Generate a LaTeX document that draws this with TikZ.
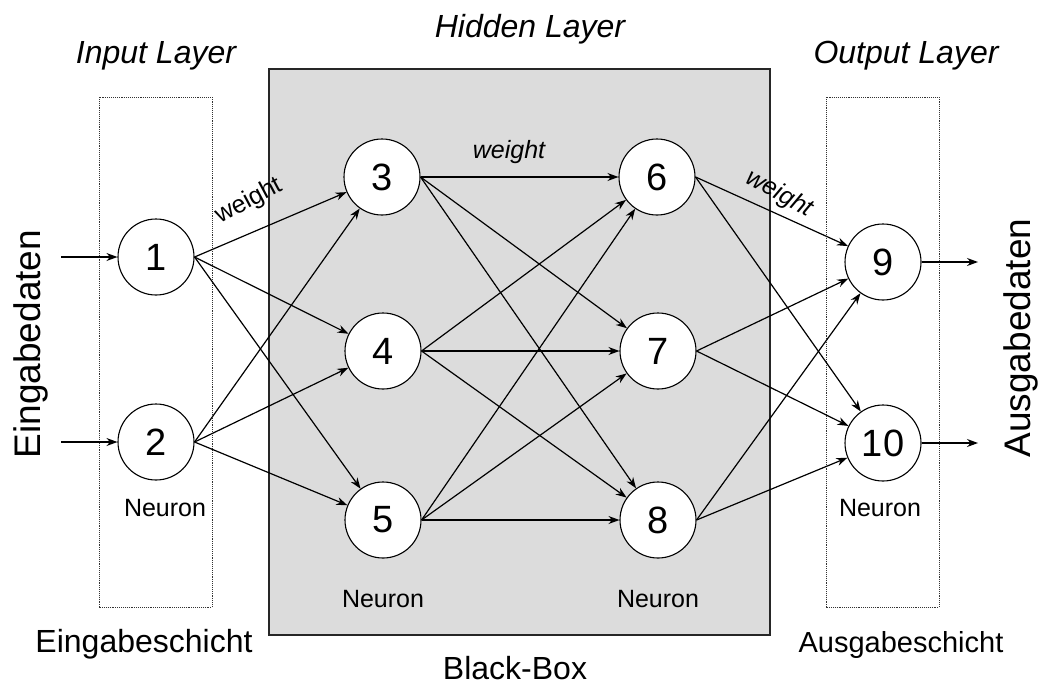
\documentclass[tikz,border=0pt]{standalone}
\usepackage{fontspec}
\setmainfont{Liberation Sans}
\usetikzlibrary{arrows.meta}
\definecolor{boxgray}{HTML}{DCDCDC}
\begin{document}
\begin{tikzpicture}[x=1pt,y=-1pt,
  neuron/.style={circle,draw,line width=1.1pt,fill=white,minimum size=76pt,inner sep=0pt,font=\fontsize{38}{40}\selectfont},
  conn/.style={line width=1.2pt,-{Stealth[length=11pt,width=8pt]}},
  layerbox/.style={draw=black!80,densely dotted,line width=0.9pt},
  blackbox/.style={draw=black!85,fill=boxgray,line width=1.4pt},
  title/.style={font=\fontsize{32}{36}\selectfont\itshape,anchor=base,inner sep=0pt},
  bottomlabel/.style={font=\fontsize{32}{36}\selectfont,anchor=base,inner sep=0pt},
  sidelabel/.style={font=\fontsize{37}{40}\selectfont,anchor=base,inner sep=0pt,rotate=90},
  neuronlabel/.style={font=\fontsize{25}{28}\selectfont,anchor=base,inner sep=0pt},
  weightlabel/.style={font=\fontsize{25}{28}\selectfont,inner sep=0pt}]
\useasboundingbox (0,0) rectangle (1040,686);
% boxes
\draw[layerbox] (99,97) rectangle (212,607);
\draw[blackbox] (269,69) rectangle (770,635);
\draw[layerbox] (826,97) rectangle (939,607);
% neurons
\node[neuron] (n1) at (156,257) {1};
\node[neuron] (n2) at (156,442) {2};
\node[neuron] (n3) at (382,177) {3};
\node[neuron] (n4) at (383,351) {4};
\node[neuron] (n5) at (383,520) {5};
\node[neuron] (n6) at (657,177) {6};
\node[neuron] (n7) at (658,351) {7};
\node[neuron] (n8) at (658,520) {8};
\node[neuron] (n9) at (883,262) {9};
\node[neuron] (n10) at (883,443) {10};
% input / output coordinates
\coordinate (in1) at (61,257);
\coordinate (in2) at (61,442);
\coordinate (out9) at (978,262);
\coordinate (out10) at (978,443);
% connectors
\draw[conn] (in1) -- (n1);
\draw[conn] (in2) -- (n2);
\foreach \s in {1,2}{
  \foreach \t in {3,4,5}{
    \draw[conn] (n\s.east) -- (n\t);
  }
}
\foreach \s in {3,4,5}{
  \foreach \t in {6,7,8}{
    \draw[conn] (n\s.east) -- (n\t);
  }
}
\foreach \s in {6,7,8}{
  \foreach \t in {9,10}{
    \draw[conn] (n\s.east) -- (n\t);
  }
}
\draw[conn] (n9) -- (out9);
\draw[conn] (n10) -- (out10);
% weight labels
\node[weightlabel,rotate=28] (w1) at (249,201) {weight};
\node[weightlabel,font=\fontsize{25}{28}\selectfont\itshape] (w2) at (509,152) {weight};
\node[weightlabel,font=\fontsize{25}{28}\selectfont\itshape,rotate=-29] (w3) at (779,194) {weight};
% titles
\node[title] (tin) at (156,63) {Input Layer};
\node[title] (thid) at (530,37) {Hidden Layer};
\node[title] (tout) at (906,63) {Output Layer};
% neuron labels
\node[neuronlabel] (nl1) at (165,516) {Neuron};
\node[neuronlabel] (nl2) at (383,607) {Neuron};
\node[neuronlabel] (nl3) at (658,607) {Neuron};
\node[neuronlabel] (nl4) at (880,516) {Neuron};
% bottom labels
\node[bottomlabel] (bin) at (144,652) {Eingabeschicht};
\node[bottomlabel] (bbb) at (515,679) {Black-Box};
\node[bottomlabel,font=\fontsize{29}{32}\selectfont] (bout) at (901,652) {Ausgabeschicht};
% side labels
\node[sidelabel] (sin) at (40,344) {Eingabedaten};
\node[sidelabel] (sout) at (1030,338) {Ausgabedaten};
\end{tikzpicture}
\end{document}
